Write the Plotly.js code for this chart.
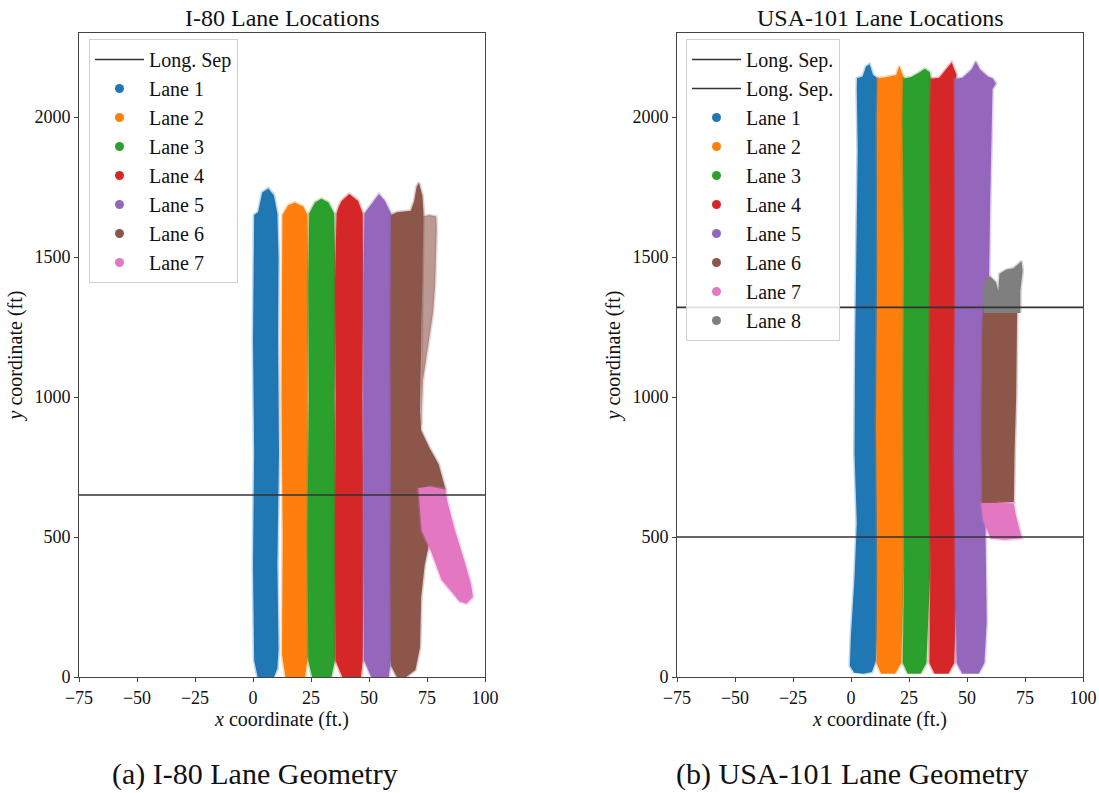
<!DOCTYPE html>
<html>
<head>
<meta charset="utf-8">
<script src="https://cdn.plot.ly/plotly-3.0.1.min.js"></script>
<style>html,body{margin:0;padding:0;background:#fff;}#chart{width:1099px;height:793px;}</style>
</head>
<body>
<div id="chart"></div>
<script>
// ---------- I-80 lane outlines (x ft, y ft) ----------
const i80Lane1X = [2, 0.5, 0, 0.5, 0, 0.3, 0.5, 2.2, 4, 6.6, 9, 10.5, 11, 10.8, 11.2, 10.5, 11, 10.5, 9];
const i80Lane1Y = [0, 60, 400, 800, 1200, 1500, 1650, 1660, 1730, 1745, 1720, 1655, 1500, 1200, 800, 400, 100, 30, 0];
const i80Lane2X = [14, 12.5, 12.8, 12.3, 12.5, 12.7, 15.2, 18, 21.6, 23.5, 23.8, 23.5, 24, 23.8, 22.4];
const i80Lane2Y = [0, 80, 500, 1000, 1400, 1650, 1685, 1695, 1680, 1650, 1400, 1000, 500, 80, 0];
const i80Lane3X = [25.5, 23.8, 23.5, 24, 23.8, 24.2, 26.7, 29.5, 32.5, 35, 35.6, 35.2, 35.8, 35.3, 33.8];
const i80Lane3Y = [0, 60, 500, 1000, 1400, 1655, 1695, 1708, 1695, 1655, 1400, 1000, 500, 60, 0];
const i80Lane4X = [38.5, 35.5, 35.3, 35.6, 35.3, 36, 37, 38.2, 41.5, 45.3, 47.3, 47.5, 47.2, 47.6, 47.3, 46.5];
const i80Lane4Y = [0, 60, 500, 1000, 1400, 1655, 1680, 1700, 1725, 1700, 1655, 1400, 1000, 500, 60, 0];
const i80Lane5X = [51, 47.8, 47.5, 47.6, 47.5, 48, 51.8, 54.3, 56.9, 59.5, 59.8, 59.5, 59.8, 59.5, 58.5];
const i80Lane5Y = [0, 60, 500, 1000, 1400, 1655, 1700, 1725, 1700, 1655, 1400, 1000, 500, 60, 0];
const i80Lane6X = [62, 59.5, 59.3, 59.5, 59.3, 59.5, 62, 68, 69.5, 70.5, 71.5, 73, 73.5, 73, 72.5, 72, 72.5, 76, 80, 83, 80, 76, 74, 72.5, 72, 70, 66];
const i80Lane6Y = [0, 40, 400, 800, 1200, 1650, 1660, 1665, 1700, 1750, 1765, 1720, 1660, 1400, 1100, 950, 880, 820, 760, 670, 600, 480, 400, 286, 107, 25, 0];
const i80Lane6FadeX = [72.5, 73, 76, 79, 79.2, 78.5, 77.6, 75.5, 73.3, 72.5];
const i80Lane6FadeY = [900, 1645, 1650, 1645, 1600, 1400, 1300, 1179, 1061, 900];
const i80Lane7X = [71.3, 72.7, 77, 81.3, 86, 89, 92, 94.8, 94, 91.4, 87, 84, 82.8, 76];
const i80Lane7Y = [675, 525, 443, 346, 300, 270, 262, 286, 330, 407, 525, 620, 670, 680];
const i80SepY = 650;

// ---------- USA-101 lane outlines ----------
const us101Lane1X = [1.5, -0.5, 0, 1.5, 2.5, 1.5, 1.8, 2.9, 2.5, 2.6, 5, 6.5, 8, 9.5, 11.5, 12, 11.5, 12, 11.6, 12, 11.5, 10.8, 9, 5];
const us101Lane1Y = [14, 40, 150, 350, 550, 800, 1200, 1880, 2100, 2138, 2145, 2180, 2188, 2150, 2138, 2000, 1600, 1200, 800, 500, 200, 60, 18, 12];
const us101Lane2X = [13, 11, 11.3, 10.8, 11.3, 11.1, 11.5, 15, 19.5, 20.8, 22.3, 23, 23.3, 23.7, 22.9, 21.6, 19];
const us101Lane2Y = [12, 50, 400, 900, 1500, 2000, 2138, 2142, 2150, 2182, 2150, 2138, 1800, 1000, 400, 50, 12];
const us101Lane3X = [24.5, 22.3, 22.9, 22.5, 22.9, 22.2, 22.5, 26, 29.6, 31.8, 34, 34.4, 34.3, 34.6, 34.3, 32.5, 30];
const us101Lane3Y = [12, 50, 400, 1000, 1500, 2000, 2137, 2143, 2160, 2172, 2160, 2138, 1800, 1000, 400, 50, 12];
const us101Lane4X = [36, 33.8, 34.2, 33.6, 34.2, 34, 34.3, 38, 40.9, 43.4, 45.5, 45.2, 45.8, 45.5, 45.8, 44.5, 42];
const us101Lane4Y = [12, 50, 400, 1000, 1500, 2000, 2137, 2140, 2170, 2195, 2150, 2137, 1800, 1000, 400, 50, 12];
const us101Lane5X = [48, 45.5, 45, 44.4, 44.8, 44.4, 44.6, 48, 52, 53.8, 55.6, 59, 61, 62.5, 61, 60, 59.5, 58.5, 58, 58.5, 57.5, 55];
const us101Lane5Y = [12, 50, 300, 800, 1400, 2000, 2136, 2140, 2170, 2198, 2170, 2145, 2138, 2120, 2100, 1700, 1400, 1000, 500, 200, 50, 12];
const us101Lane6X = [56.5, 56.3, 56.5, 57, 60, 66, 71.6, 71.2, 70.5, 70.2, 63];
const us101Lane6Y = [621, 900, 1200, 1315, 1320, 1318, 1310, 1000, 800, 625, 621];
const us101Lane7X = [56.2, 57, 60.2, 66, 73.7, 72.5, 71, 70.2, 63];
const us101Lane7Y = [621, 560, 495, 490, 495, 530, 580, 620, 622];
const us101Lane8X = [57.3, 57, 58, 60, 62.5, 63.5, 64, 67, 70, 72, 73.5, 74, 73, 73];
const us101Lane8Y = [1300, 1380, 1418, 1430, 1410, 1380, 1440, 1455, 1460, 1475, 1485, 1450, 1380, 1300];
const us101SepY = [1320, 500];

const xRange = [-75, 100];
const xTicks = [-75, -50, -25, 0, 25, 50, 75, 100];
const yTicks = [0, 500, 1000, 1500, 2000];
const laneNames = ['Lane 1', 'Lane 2', 'Lane 3', 'Lane 4', 'Lane 5', 'Lane 6', 'Lane 7', 'Lane 8'];
const laneColors = ['#1f77b4', '#ff7f0e', '#2ca02c', '#d62728', '#9467bd', '#8c564b', '#e377c2', '#7f7f7f'];

function rgba(hex, a) {
  const n = parseInt(hex.slice(1), 16);
  return `rgba(${(n >> 16) & 255},${(n >> 8) & 255},${n & 255},${a})`;
}
const mean = a => a.reduce((s, v) => s + v, 0) / a.length;

const traces = [];
function addLane(xs, ys, idx, xa, ya, leg, extra) {
  const c = laneColors[idx];
  traces.push({
    type: 'scatter', mode: 'lines', x: xs, y: ys, fill: 'toself',
    fillcolor: c, line: {color: rgba(c, 0.3), width: 3},
    xaxis: xa, yaxis: ya, showlegend: false, hoverinfo: 'skip'
  });
  if (extra) {
    traces.push({
      type: 'scatter', mode: 'lines', x: extra[0], y: extra[1], fill: 'toself',
      fillcolor: rgba(c, 0.6), line: {color: rgba(c, 0.2), width: 3},
      xaxis: xa, yaxis: ya, showlegend: false, hoverinfo: 'skip'
    });
  }
  traces.push({
    type: 'scatter', mode: 'markers', x: [mean(xs)], y: [mean(ys)],
    marker: {color: c, size: 9}, name: laneNames[idx],
    xaxis: xa, yaxis: ya, legend: leg, legendrank: 10 + idx
  });
}

// I-80
addLane(i80Lane1X, i80Lane1Y, 0, 'x', 'y', 'legend');
addLane(i80Lane2X, i80Lane2Y, 1, 'x', 'y', 'legend');
addLane(i80Lane3X, i80Lane3Y, 2, 'x', 'y', 'legend');
addLane(i80Lane4X, i80Lane4Y, 3, 'x', 'y', 'legend');
addLane(i80Lane5X, i80Lane5Y, 4, 'x', 'y', 'legend');
addLane(i80Lane6X, i80Lane6Y, 5, 'x', 'y', 'legend', [i80Lane6FadeX, i80Lane6FadeY]);
addLane(i80Lane7X, i80Lane7Y, 6, 'x', 'y', 'legend');
traces.push({
  type: 'scatter', mode: 'lines', x: xRange, y: [i80SepY, i80SepY],
  line: {color: '#333333', width: 1.6}, name: 'Long. Sep',
  xaxis: 'x', yaxis: 'y', legend: 'legend', legendrank: 1
});

// USA-101
addLane(us101Lane1X, us101Lane1Y, 0, 'x2', 'y2', 'legend2');
addLane(us101Lane2X, us101Lane2Y, 1, 'x2', 'y2', 'legend2');
addLane(us101Lane3X, us101Lane3Y, 2, 'x2', 'y2', 'legend2');
addLane(us101Lane4X, us101Lane4Y, 3, 'x2', 'y2', 'legend2');
addLane(us101Lane5X, us101Lane5Y, 4, 'x2', 'y2', 'legend2');
addLane(us101Lane6X, us101Lane6Y, 5, 'x2', 'y2', 'legend2');
addLane(us101Lane7X, us101Lane7Y, 6, 'x2', 'y2', 'legend2');
addLane(us101Lane8X, us101Lane8Y, 7, 'x2', 'y2', 'legend2');
us101SepY.forEach((yv, k) => {
  traces.push({
    type: 'scatter', mode: 'lines', x: xRange, y: [yv, yv],
    line: {color: '#333333', width: 1.6}, name: 'Long. Sep.',
    xaxis: 'x2', yaxis: 'y2', legend: 'legend2', legendrank: 1 + k
  });
});

const FONT = 'Liberation Serif, DejaVu Serif, serif';
const W = 1099, H = 793;
function xAxis(dom, anchor) {
  return {
    domain: dom, range: xRange, tickvals: xTicks, anchor: anchor,
    showgrid: false, zeroline: false, showline: true, mirror: true,
    linecolor: '#444', linewidth: 1, ticks: 'outside', ticklen: 4, tickcolor: '#444',
    tickfont: {family: FONT, size: 18, color: '#111'},
    title: {text: '<i>x</i> coordinate (ft.)', font: {family: FONT, size: 20, color: '#111'}, standoff: 2},
    automargin: false, fixedrange: true
  };
}
function yAxis(anchor) {
  return {
    domain: [1 - 677 / H, 1 - 33 / H], range: [0, 2300], tickvals: yTicks, anchor: anchor,
    showgrid: false, zeroline: false, showline: true, mirror: true,
    linecolor: '#444', linewidth: 1, ticks: 'outside', ticklen: 4, tickcolor: '#444',
    tickfont: {family: FONT, size: 18, color: '#111'},
    title: {text: '<i>y</i> coordinate (ft)', font: {family: FONT, size: 20, color: '#111'}, standoff: 6},
    automargin: false, fixedrange: true
  };
}
function legendCfg(xpx) {
  return {
    x: xpx / W, y: 1 - 39 / H, xanchor: 'left', yanchor: 'top',
    bgcolor: 'rgba(255,255,255,0.85)', bordercolor: '#d0d0d0', borderwidth: 1,
    font: {family: FONT, size: 20, color: '#111'}, traceorder: 'normal', itemwidth: 49
  };
}

const layout = {
  width: W, height: H, margin: {l: 0, r: 0, t: 0, b: 0},
  paper_bgcolor: '#fff', plot_bgcolor: '#fff',
  xaxis: xAxis([79 / W, 485 / W], 'y'),
  yaxis: yAxis('x'),
  xaxis2: xAxis([677 / W, 1083 / W], 'y2'),
  yaxis2: yAxis('x2'),
  legend: legendCfg(89),
  legend2: legendCfg(686),
  annotations: [
    {text: 'I-80 Lane Locations', x: 282 / W, y: 1 - 18 / H, xref: 'paper', yref: 'paper', showarrow: false,
     xanchor: 'center', yanchor: 'middle', font: {family: FONT, size: 24, color: '#111'}},
    {text: 'USA-101 Lane Locations', x: 880 / W, y: 1 - 18 / H, xref: 'paper', yref: 'paper', showarrow: false,
     xanchor: 'center', yanchor: 'middle', font: {family: FONT, size: 24, color: '#111'}},
    {text: '(a) I-80 Lane Geometry', x: 255 / W, y: 1 - 774 / H, xref: 'paper', yref: 'paper', showarrow: false,
     xanchor: 'center', yanchor: 'middle', font: {family: FONT, size: 30, color: '#111'}},
    {text: '(b) USA-101 Lane Geometry', x: 852 / W, y: 1 - 774 / H, xref: 'paper', yref: 'paper', showarrow: false,
     xanchor: 'center', yanchor: 'middle', font: {family: FONT, size: 30, color: '#111'}}
  ]
};

Plotly.newPlot('chart', traces, layout, {staticPlot: true, displayModeBar: false});
</script>
</body>
</html>
